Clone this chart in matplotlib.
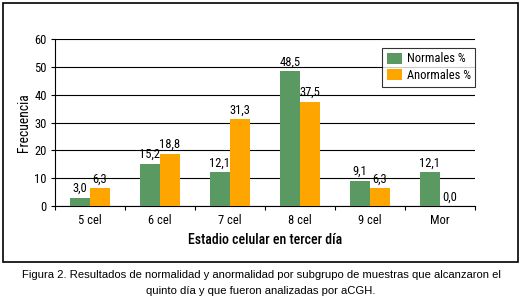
import matplotlib
matplotlib.use('Agg')
import matplotlib.pyplot as plt
from matplotlib.patches import Rectangle

# Data
categories = ['5 cel', '6 cel', '7 cel', '8 cel', '9 cel', 'Mor']
normales = [3.0, 15.2, 12.1, 48.5, 9.1, 12.1]
anormales = [6.3, 18.8, 31.3, 37.5, 6.3, 0.0]
yticks = [0, 10, 20, 30, 40, 50, 60]

plt.rcParams['font.family'] = ['Roboto Condensed', 'DejaVu Sans']

green = '#5a9a62'
orange = '#ffa500'
fs = 9

fig = plt.figure(figsize=(5.22, 3.04), dpi=100)
ax = fig.add_axes([55 / 522, 1 - 206 / 304, 420 / 522, 167 / 304])

w = 0.286
x = list(range(len(categories)))
b1 = ax.bar([i - w / 2 for i in x], normales, w, color=green, label='Normales %', zorder=3)
b2 = ax.bar([i + w / 2 for i in x], anormales, w, color=orange, label='Anormales %', zorder=3)

for bars, vals in ((b1, normales), (b2, anormales)):
    for r, v in zip(bars, vals):
        ax.text(r.get_x() + r.get_width() / 2, v + 0.9, f'{v:.1f}'.replace('.', ','),
                ha='center', va='bottom', fontsize=fs)

ax.set_xlim(-0.5, len(categories) - 0.5)
ax.set_ylim(0, 60)
ax.set_yticks(yticks)
ax.set_yticklabels([str(t) for t in yticks], fontsize=fs)
ax.set_xticks([i + 0.5 for i in x[:-1]] + [-0.5, len(categories) - 0.5])
ax.set_xticklabels([])
ax.set_xticks(x, minor=True)
ax.set_xticklabels(categories, minor=True, fontsize=fs)
ax.tick_params(axis='x', which='minor', length=0, pad=6)
ax.tick_params(axis='x', which='major', length=3, direction='out', width=0.8)
ax.tick_params(axis='y', length=3, width=0.8, pad=3)
ax.grid(axis='y', color='black', linewidth=0.8, zorder=0)
for s in ['top', 'right']:
    ax.spines[s].set_visible(False)
ax.spines['left'].set_linewidth(0.8)
ax.spines['bottom'].set_linewidth(0.8)

ax.set_ylabel('Frecuencia', fontsize=9.8, labelpad=2)
ax.set_xlabel('Estadio celular en tercer día', fontsize=10, fontweight='medium', labelpad=4)

leg = ax.legend(loc='upper right', bbox_to_anchor=(1.0, 1 - 9 / 167), borderaxespad=0,
                fontsize=fs, frameon=True, fancybox=False, handlelength=1.2, handleheight=1.0,
                handletextpad=0.4, borderpad=0.35, labelspacing=0.3)
leg.get_frame().set_edgecolor('black')
leg.get_frame().set_linewidth(0.8)

fig.patches.append(Rectangle((3 / 522, 1 - 262 / 304), 515 / 522, 259 / 304,
                             transform=fig.transFigure, fill=False, edgecolor='black', linewidth=1.2))

fig.text(0.5, 1 - 275 / 304, 'Figura 2. Resultados de normalidad y anormalidad por subgrupo de muestras que alcanzaron el',
         ha='center', va='center', fontsize=8.1, family=['Liberation Sans', 'DejaVu Sans'])
fig.text(0.5, 1 - 291 / 304, 'quinto día y que fueron analizadas por aCGH.',
         ha='center', va='center', fontsize=8.1, family=['Liberation Sans', 'DejaVu Sans'])

fig.savefig('out.png', dpi=100)
